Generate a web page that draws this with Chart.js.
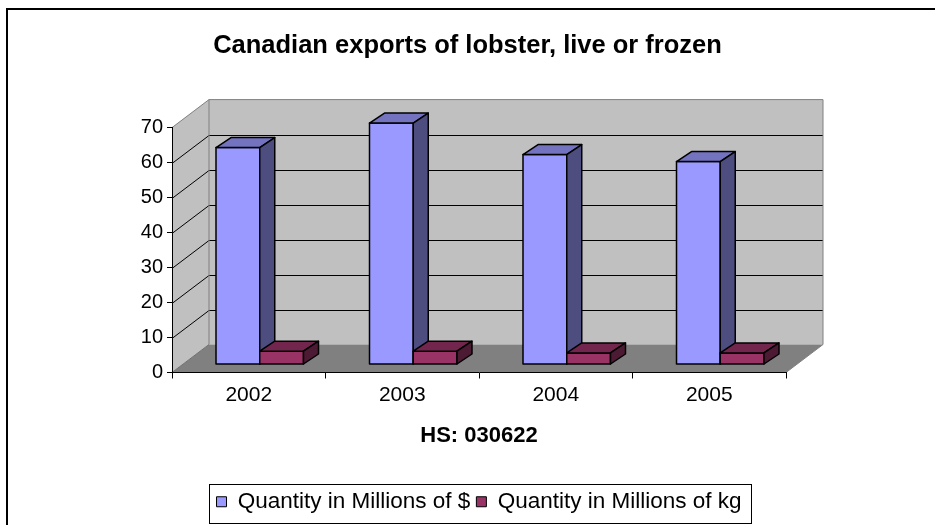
<!DOCTYPE html>
<html lang="en">
<head>
<meta charset="UTF-8">
<title>Canadian exports of lobster, live or frozen</title>
<script src="https://cdn.jsdelivr.net/npm/chart.js"></script>
<style>
  html, body { margin: 0; padding: 0; background: #fff; }
  #wrap { width: 935px; height: 525px; }
</style>
</head>
<body>
<div id="wrap"><canvas id="lobsterChart" width="935" height="525"></canvas></div>
<script>
// data
const years = ['2002', '2003', '2004', '2005'];
const dollarValues = [62, 69, 60, 58];
const kgValues = [3.8, 3.8, 3.3, 3.3];
const seriesNames = ['Quantity in Millions of $', 'Quantity in Millions of kg'];
const yTicks = [0, 10, 20, 30, 40, 50, 60, 70];

// 3d look: wall depth, where the bar row sits, and bar thickness
const DEPTH = { x: 37, y: -28 };
const BAR_SHIFT = { x: 11, y: -8 };
const BAR_DEPTH = { x: 15, y: -10 };

const barTones = [
    { front: '#9999FF', top: '#7373BF', side: '#4D4D80' },
    { front: '#993366', top: '#73264D', side: '#4D1A33' }
];

Chart.defaults.font.family = "'Liberation Sans', Arial, sans-serif";
Chart.defaults.color = '#000';

function poly(ctx, pts, fill, stroke, lw) {
    ctx.beginPath();
    ctx.moveTo(pts[0][0], pts[0][1]);
    for (let i = 1; i < pts.length; i++) ctx.lineTo(pts[i][0], pts[i][1]);
    ctx.closePath();
    if (fill) { ctx.fillStyle = fill; ctx.fill(); }
    if (stroke) { ctx.strokeStyle = stroke; ctx.lineWidth = lw || 1; ctx.stroke(); }
}

function line(ctx, pts, color) {
    ctx.beginPath();
    ctx.moveTo(pts[0][0], pts[0][1]);
    for (let i = 1; i < pts.length; i++) ctx.lineTo(pts[i][0], pts[i][1]);
    ctx.strokeStyle = color;
    ctx.lineWidth = 1;
    ctx.stroke();
}

const box3d = {
    id: 'box3d',
    // walls, floor and back gridlines go under the axes
    beforeDraw(chart) {
        const { ctx, chartArea: a, scales: { y } } = chart;
        const dx = DEPTH.x, dy = DEPTH.y;
        const L = a.left, R = a.right;
        const T = y.getPixelForValue(y.max), B = y.getPixelForValue(0);
        ctx.save();
        poly(ctx, [[L, T], [L + dx, T + dy], [L + dx, B + dy], [L, B]], '#C0C0C0');
        poly(ctx, [[L + dx, T + dy], [R + dx, T + dy], [R + dx, B + dy], [L + dx, B + dy]], '#C0C0C0');
        poly(ctx, [[L, B], [R, B], [R + dx, B + dy], [L + dx, B + dy]], '#808080');
        y.ticks.forEach(t => {
            if (t.value <= 0 || t.value >= y.max) return;
            const py = Math.round(y.getPixelForValue(t.value)) + 0.5;
            line(ctx, [[L, py], [L + dx, py + dy], [R + dx, py + dy]], '#000');
        });
        line(ctx, [[L, T], [L + dx, T + dy], [R + dx, T + dy], [R + dx, B + dy], [R, B]], '#808080');
        line(ctx, [[L + dx, T + dy], [L + dx, B + dy]], '#808080');
        line(ctx, [[L, B], [L + dx, B + dy]], '#707070');
        ctx.restore();
    },
    // columns drawn as boxes instead of flat bars
    beforeDatasetsDraw(chart) {
        const ctx = chart.ctx;
        const bx = BAR_DEPTH.x, by = BAR_DEPTH.y;
        ctx.save();
        ctx.lineJoin = 'round';
        chart.data.datasets.forEach((ds, di) => {
            const tone = barTones[di];
            chart.getDatasetMeta(di).data.forEach(bar => {
                const { x, y, base, width } = bar.getProps(['x', 'y', 'base', 'width'], true);
                const l = x - width / 2 + BAR_SHIFT.x, r = x + width / 2 + BAR_SHIFT.x;
                const t = y + BAR_SHIFT.y, b = base + BAR_SHIFT.y;
                poly(ctx, [[l, t], [r, t], [r, b], [l, b]], tone.front, '#000', 1.5);
                poly(ctx, [[l, t], [l + bx, t + by], [r + bx, t + by], [r, t]], tone.top, '#000', 1.5);
                poly(ctx, [[r, t], [r + bx, t + by], [r + bx, b + by], [r, b]], tone.side, '#000', 1.5);
            });
        });
        ctx.restore();
        return false;
    },
    // frame round the legend and the whole chart
    afterDraw(chart) {
        const ctx = chart.ctx;
        const hb = chart.legend.legendHitBoxes;
        ctx.save();
        if (hb && hb.length) {
            const first = hb[0], last = hb[hb.length - 1];
            const left = Math.round(first.left - 8) + 0.5;
            const right = Math.round(last.left + last.width + 10) + 0.5;
            const top = Math.round(first.top - 7) + 0.5;
            const bottom = Math.round(first.top + 32) + 0.5;
            ctx.strokeStyle = '#000';
            ctx.lineWidth = 1;
            ctx.strokeRect(left, top, right - left, bottom - top);
        }
        ctx.strokeStyle = '#000';
        ctx.lineWidth = 2;
        ctx.strokeRect(7, 9, 940, 530);
        ctx.restore();
    }
};

new Chart(document.getElementById('lobsterChart'), {
    type: 'bar',
    data: {
        labels: years,
        datasets: [
            { label: seriesNames[0], data: dollarValues, backgroundColor: barTones[0].front, borderColor: '#000', borderWidth: 1 },
            { label: seriesNames[1], data: kgValues, backgroundColor: barTones[1].front, borderColor: '#000', borderWidth: 1 }
        ]
    },
    options: {
        responsive: false,
        animation: false,
        devicePixelRatio: 1,
        layout: { padding: { top: 0, left: 0, right: 0, bottom: 2 } },
        datasets: { bar: { categoryPercentage: 0.57, barPercentage: 1 } },
        scales: {
            x: {
                grid: { display: true, drawOnChartArea: false, drawTicks: true, tickLength: 6, color: '#000' },
                border: { display: true, color: '#000', width: 1 },
                ticks: { padding: 4, font: { size: 21 }, color: '#000' },
                title: { display: true, text: 'HS: 030622', font: { size: 22, weight: 'bold' }, color: '#000', padding: { top: 0, bottom: 35 } },
                afterFit(s) { s.height = 112; }
            },
            y: {
                min: 0,
                max: 70,
                afterBuildTicks(s) { s.ticks = yTicks.map(v => ({ value: v })); },
                grid: { display: true, drawOnChartArea: false, drawTicks: true, tickLength: 5, color: '#000' },
                border: { display: true, color: '#000', width: 1 },
                ticks: { padding: 4, font: { size: 20 }, color: '#000' },
                afterFit(s) { s.width = 172; }
            },
            // empty right gutter where the box's depth shows
            gutter: {
                type: 'linear',
                position: 'right',
                grid: { display: false },
                border: { display: false },
                ticks: { display: false },
                afterFit(s) { s.width = 149; }
            }
        },
        plugins: {
            title: {
                display: true,
                text: 'Canadian exports of lobster, live or frozen',
                font: { size: 25.5, weight: 'bold' },
                color: '#000',
                padding: { top: 31, bottom: 66 }
            },
            legend: {
                position: 'bottom',
                fullSize: false,
                labels: { boxWidth: 10, boxHeight: 10, padding: 6, color: '#000', font: { size: 22.5 } }
            },
            tooltip: { enabled: false }
        }
    },
    plugins: [box3d]
});
</script>
</body>
</html>
